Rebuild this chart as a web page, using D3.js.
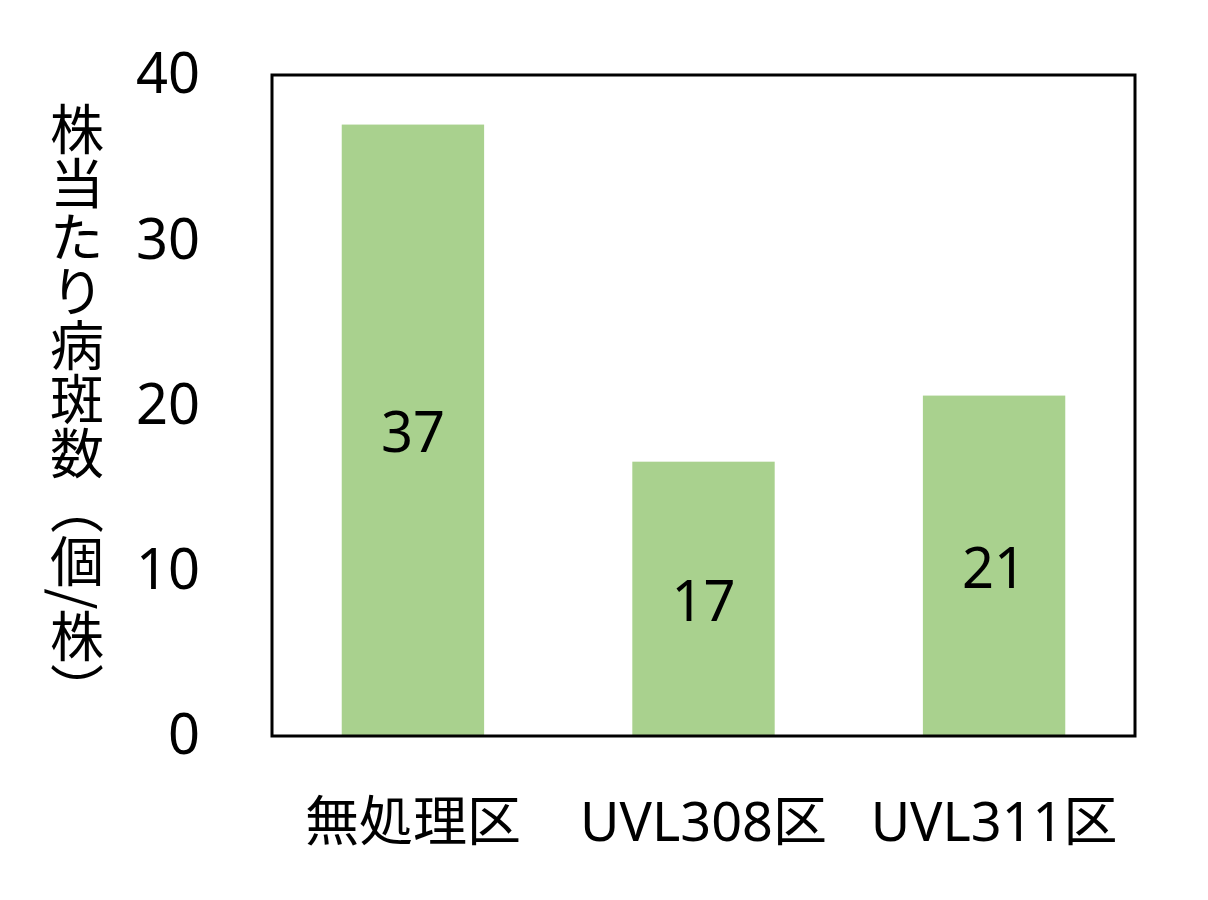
<!DOCTYPE html>
<html><head><meta charset="utf-8">
<script src="https://cdn.jsdelivr.net/npm/d3@7"></script>
<style>body{margin:0;background:#fff}</style>
</head><body>
<script>
const categories = ["無処理区", "UVL308区", "UVL311区"];
const values = [37.0, 16.6, 20.6];
const labels = ["37", "17", "21"];
const yTicks = [0, 10, 20, 30, 40];
const yTitle = "株当たり病斑数（個/株）";

const W = 1208, H = 900;
const m = {left: 272, right: 1135, top: 75, bottom: 736};
const font = "'Noto Sans', 'Noto Sans CJK JP', sans-serif";

const svg = d3.select("body").append("svg").attr("width", W).attr("height", H);

const x = d3.scaleBand().domain(categories).range([m.left, m.right]).paddingInner(0.51).paddingOuter(0.24);
const y = d3.scaleLinear().domain([0, 40]).range([m.bottom, m.top]);

svg.selectAll("rect.bar").data(values).enter().append("rect")
  .attr("class", "bar")
  .attr("x", (d, i) => x(categories[i]))
  .attr("width", x.bandwidth())
  .attr("y", d => y(d))
  .attr("height", d => y(0) - y(d))
  .attr("fill", "#a9d18e");

svg.append("rect")
  .attr("x", m.left).attr("y", m.top)
  .attr("width", m.right - m.left).attr("height", m.bottom - m.top)
  .attr("fill", "none").attr("stroke", "#000").attr("stroke-width", 3);

const yAxis = svg.append("g").attr("transform", `translate(${m.left},0)`)
  .call(d3.axisLeft(y).tickValues(yTicks).tickSize(0).tickPadding(72));
yAxis.select(".domain").remove();
yAxis.selectAll("text").attr("font-family", font).attr("font-size", 56).attr("fill", "#000");

svg.selectAll("text.lab").data(values).enter().append("text")
  .attr("class", "lab")
  .attr("x", (d, i) => x(categories[i]) + x.bandwidth() / 2)
  .attr("y", d => (y(d) + y(0)) / 2 + 2)
  .attr("dy", "0.36em")
  .attr("text-anchor", "middle")
  .attr("font-family", font).attr("font-size", 56)
  .text((d, i) => labels[i]);

svg.selectAll("text.cat").data(categories).enter().append("text")
  .attr("class", "cat")
  .attr("x", d => x(d) + x.bandwidth() / 2)
  .attr("y", 841)
  .attr("text-anchor", "middle")
  .attr("font-family", font).attr("font-size", 54)
  .text(d => d);

svg.append("text")
  .attr("x", 77).attr("y", 410)
  .attr("text-anchor", "middle")
  .style("writing-mode", "vertical-rl")
  .attr("font-family", "'Noto Sans CJK JP', sans-serif").attr("font-size", 54)
  .text(yTitle);
</script>
</body></html>
